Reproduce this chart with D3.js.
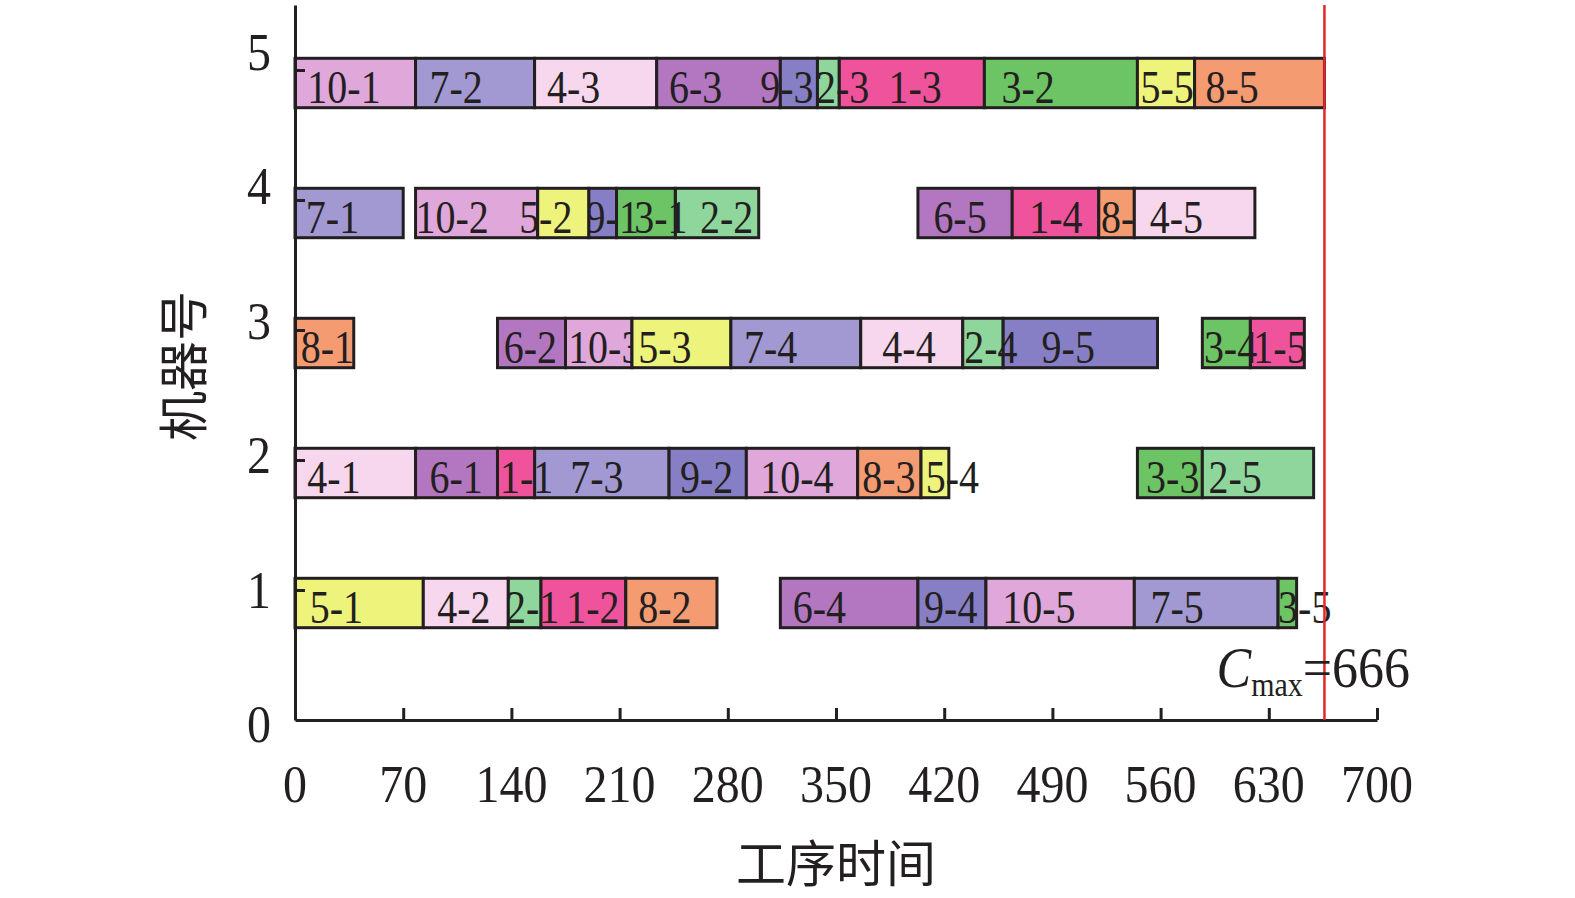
<!DOCTYPE html>
<html>
<head>
<meta charset="utf-8">
<script src="https://cdn.jsdelivr.net/npm/d3@7"></script>
<style>
    html, body { margin: 0; padding: 0; background: #fff; }
    svg { display: block; }
    .serif { font-family: "Liberation Serif", "Times New Roman", serif; fill: #231f20; }
    .cjk { font-family: "Noto Sans CJK SC", sans-serif; fill: #231f20; }
</style>
</head>
<body>
<svg id="chart" width="1575" height="898"></svg>
<script>
// job-operation blocks, machine 5 / 4 / 3 / 2 / 1, listed in the order they are painted
// (a later block hides the part of an earlier label that runs into it)
const opLabels = [
    "10-1", "7-2", "4-3", "6-3", "9-3", "1-3", "2-3", "3-2", "5-5", "8-5",
    "7-1", "10-2", "2-2", "3-1", "9-1", "5-2", "6-5", "1-4", "8-4", "4-5",
    "8-1", "6-2", "10-3", "5-3", "7-4", "4-4", "9-5", "2-4", "1-5", "3-4",
    "4-1", "6-1", "7-3", "1-1", "9-2", "10-4", "8-3", "5-4", "3-3", "2-5",
    "5-1", "4-2", "1-2", "2-1", "8-2", "6-4", "9-4", "10-5", "7-5", "3-5"
];
const opMachine = [
    5, 5, 5, 5, 5, 5, 5, 5, 5, 5,
    4, 4, 4, 4, 4, 4, 4, 4, 4, 4,
    3, 3, 3, 3, 3, 3, 3, 3, 3, 3,
    2, 2, 2, 2, 2, 2, 2, 2, 2, 2,
    1, 1, 1, 1, 1, 1, 1, 1, 1, 1
];
const opStart = [
    0, 78, 155, 234, 314, 352, 338, 446, 545, 582,
    0, 78, 246, 208, 190, 157, 403, 464, 520, 543,
    0, 131, 175, 218, 282, 366, 458, 432, 618, 587,
    0, 78, 155, 131, 242, 292, 364, 405, 545, 587,
    0, 83, 159, 138, 214, 314, 403, 447, 543, 636
];
const opEnd = [
    78, 155, 234, 314, 338, 446, 352, 545, 582, 666,
    70, 157, 300, 246, 208, 190, 464, 520, 543, 621,
    38, 175, 218, 282, 366, 432, 558, 458, 653, 618,
    78, 131, 242, 155, 292, 364, 405, 423, 587, 659,
    83, 138, 214, 159, 273, 403, 447, 543, 636, 648
];
// where each label text starts (time units), as placed in the original
const opTextAt = [
    8, 87, 163, 242, 301, 384, 337, 457, 547, 589,
    7, 78, 262, 219.5, 188, 145, 413, 475, 521.5, 553,
    3.7, 135, 176.7, 222, 290.5, 380, 483, 433, 620, 588,
    8, 87, 178, 132.6, 249, 301, 367, 408, 550.6, 591,
    9.5, 92, 175.5, 136.5, 222, 322, 407, 457.5, 553.5, 636
];

const machineTicks = [0, 1, 2, 3, 4, 5];
const timeTicks = [0, 70, 140, 210, 280, 350, 420, 490, 560, 630, 700];
const makespan = 666;

// job 1..10
const jobColors = ["#ef539b", "#8ed69c", "#6dc465", "#f6d7ee", "#eef37b",
    "#b377c2", "#a299d3", "#f59b72", "#877fc5", "#dfa7da"];

const ink = "#231f20";
const svg = d3.select("#chart");

const x = d3.scaleLinear().domain([0, 700]).range([295, 1377]);
const y = d3.scaleLinear().domain([0, 5.5]).range([720, 5]);
// tick labels drift slightly from the ticks in the original figure
const yText = d3.scaleLinear().domain([0, 5]).range([742, 70]);

const ops = opLabels.map((label, i) => ({
    label,
    job: +label.split("-")[0],
    machine: opMachine[i],
    start: opStart[i],
    end: opEnd[i],
    textAt: opTextAt[i]
}));

const blocks = svg.append("g")
    .selectAll("g")
    .data(ops)
    .join("g");
blocks.append("rect")
    .attr("x", d => x(d.start))
    .attr("y", d => y(d.machine + 0.09))
    .attr("width", d => x(d.end) - x(d.start))
    .attr("height", d => y(d.machine - 0.29) - y(d.machine + 0.09))
    .attr("fill", d => jobColors[d.job - 1])
    .attr("stroke", ink)
    .attr("stroke-width", 3);
blocks.append("text")
    .classed("serif", true)
    .attr("transform", d => `translate(${x(d.textAt)},${y(d.machine - 0.29) - 5}) scale(1,1.18)`)
    .attr("font-size", 40)
    .text(d => d.label);

// axes, ticks drawn inward
const xAxis = svg.append("g")
    .attr("transform", `translate(0,${y(0)})`)
    .call(d3.axisBottom(x).tickValues(timeTicks).tickSize(-12).tickSizeOuter(0).tickFormat(""));
const yAxis = svg.append("g")
    .attr("transform", `translate(${x(0)},0)`)
    .call(d3.axisLeft(y).tickValues(machineTicks.slice(1)).tickSize(-10).tickSizeOuter(0).tickFormat(""));
[xAxis, yAxis].forEach(axis => {
    axis.select(".domain").attr("stroke", ink).attr("stroke-width", 3);
    axis.selectAll(".tick line").attr("stroke", ink).attr("stroke-width", 3);
});

svg.append("g")
    .selectAll("text")
    .data(timeTicks)
    .join("text")
    .classed("serif", true)
    .attr("text-anchor", "middle")
    .attr("font-size", 48)
    .attr("transform", d => `translate(${x(d)},802) scale(1,1.12)`)
    .text(d => d);

svg.append("g")
    .selectAll("text")
    .data(machineTicks)
    .join("text")
    .classed("serif", true)
    .attr("text-anchor", "end")
    .attr("font-size", 48)
    .attr("transform", d => `translate(271,${yText(d)}) scale(1,1.12)`)
    .text(d => d);

// makespan line
svg.append("line")
    .attr("x1", x(makespan)).attr("x2", x(makespan))
    .attr("y1", y(5.5)).attr("y2", y(0))
    .attr("stroke", "#e2262b")
    .attr("stroke-width", 2.5);

const cmax = svg.append("text")
    .classed("serif", true)
    .attr("transform", `translate(${x(makespan) - 108},687) scale(1,1.1)`)
    .attr("font-size", 52);
cmax.append("tspan").attr("font-style", "italic").text("C");
cmax.append("tspan").attr("font-size", 30).attr("dy", 8).text("max");
cmax.append("tspan").attr("dy", -8).text(`=${makespan}`);

svg.append("text")
    .classed("cjk", true)
    .attr("text-anchor", "middle")
    .attr("font-size", 50)
    .attr("x", 836)
    .attr("y", 882)
    .text("工序时间");

svg.append("text")
    .classed("cjk", true)
    .attr("text-anchor", "middle")
    .attr("font-size", 50)
    .attr("transform", "translate(202,366) rotate(-90)")
    .text("机器号");
</script>
</body>
</html>
